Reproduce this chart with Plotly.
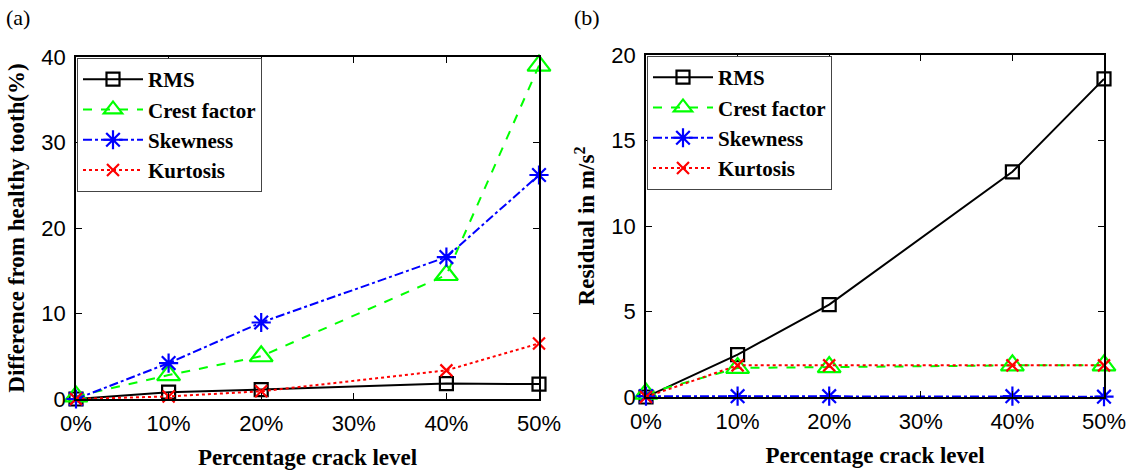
import plotly.graph_objects as go

# Crack levels (%)
crack_level = [0, 10, 20, 30, 40, 50]
x_levels = [0, 10, 20, 40, 50]
x_tick_text = ["0%", "10%", "20%", "30%", "40%", "50%"]

# (a) Difference from healthy tooth (%)
diff_rms = [0.0, 0.8, 1.1, 1.8, 1.75]
diff_crest = [0.3, 2.8, 5.0, 14.5, 39.0]
diff_skew = [0.0, 4.2, 8.95, 16.6, 26.2]
diff_kurt = [0.0, 0.3, 0.9, 3.35, 6.5]

# (b) Residual in m/s^2
res_rms = [0.0, 2.48, 5.4, 13.17, 18.6]
res_crest = [0.2, 1.7, 1.75, 1.85, 1.85]
res_skew = [0.05, 0.05, 0.05, 0.05, 0.02]
res_kurt = [0.0, 1.85, 1.85, 1.85, 1.85]

W, H = 1135, 473
SERIF = "Liberation Serif"
SANS = "Liberation Sans"

styles = [
    ("RMS", "#000000", "solid", "square-open", 13),
    ("Crest factor", "#00FF00", "dash", "triangle-up-open", 20),
    ("Skewness", "#0000FF", "dashdot", "asterisk-open", 16),
    ("Kurtosis", "#FF0000", "dot", "x-thin-open", 12),
]

fig = go.Figure()

panels = [
    ("x", "y", "legend", [diff_rms, diff_crest, diff_skew, diff_kurt]),
    ("x2", "y2", "legend2", [res_rms, res_crest, res_skew, res_kurt]),
]
for xa, ya, leg, series in panels:
    for (name, color, dash, symbol, size), vals in zip(styles, series):
        fig.add_trace(go.Scatter(
            x=x_levels, y=vals, name=name, mode="lines+markers",
            xaxis=xa, yaxis=ya, legend=leg, cliponaxis=False,
            line=dict(color=color, width=2, dash=dash),
            marker=dict(symbol=symbol, size=size, color=color,
                        line=dict(color=color, width=2.2)),
        ))

def px_x(p):
    return p / W

def px_y(p):
    return 1 - p / H

axis_common = dict(
    showline=True, linecolor="black", linewidth=1.5, mirror="ticks",
    ticks="inside", ticklen=6, tickwidth=1.2, tickcolor="black",
    showgrid=False, zeroline=False, automargin=False,
    tickfont=dict(family=SANS, size=22, color="black"),
)
title_font = dict(family=SERIF, size=23, color="black")
legend_font = dict(family=SERIF, size=21, color="black", weight="bold")

fig.update_layout(
    width=W, height=H,
    margin=dict(l=0, r=0, t=0, b=0),
    paper_bgcolor="white", plot_bgcolor="white",
    font=dict(family=SERIF, color="black"),
    xaxis=dict(axis_common, domain=[px_x(76), px_x(539)], range=[0, 50],
               tickvals=crack_level, ticktext=x_tick_text, anchor="y",
               ticklabelstandoff=4,
               title=dict(text="<b>Percentage crack level</b>",
                          font=title_font, standoff=14)),
    yaxis=dict(axis_common, domain=[px_y(399), px_y(57)], range=[0, 40],
               tickvals=[0, 10, 20, 30, 40], anchor="x",
               ticklabelstandoff=4,
               title=dict(text="<b>Difference from healthy tooth(%)</b>",
                          font=title_font, standoff=10)),
    xaxis2=dict(axis_common, domain=[px_x(646), px_x(1104)], range=[0, 50],
                tickvals=crack_level, ticktext=x_tick_text, anchor="y2",
                ticklabelstandoff=4,
                title=dict(text="<b>Percentage crack level</b>",
                           font=title_font, standoff=14)),
    yaxis2=dict(axis_common, domain=[px_y(397), px_y(55)], range=[0, 20],
                tickvals=[0, 5, 10, 15, 20], anchor="x2",
                ticklabelstandoff=4,
                title=dict(text="<b>Residual in m/s<sup>2</sup></b>",
                           font=title_font, standoff=10)),
    legend=dict(x=px_x(77), y=px_y(58), xanchor="left", yanchor="top",
                bgcolor="white", bordercolor="#444", borderwidth=1,
                font=legend_font, tracegroupgap=0, itemwidth=60),
    legend2=dict(x=px_x(647), y=px_y(56), xanchor="left", yanchor="top",
                 bgcolor="white", bordercolor="#444", borderwidth=1,
                 font=legend_font, tracegroupgap=0, itemwidth=60),
    annotations=[
        dict(text="(a)", x=px_x(18), y=px_y(18), xref="paper", yref="paper",
             xanchor="center", yanchor="middle", showarrow=False,
             font=dict(family=SERIF, size=22, color="black")),
        dict(text="(b)", x=px_x(587), y=px_y(18), xref="paper", yref="paper",
             xanchor="center", yanchor="middle", showarrow=False,
             font=dict(family=SERIF, size=22, color="black")),
    ],
)

fig.write_html("out.html")
